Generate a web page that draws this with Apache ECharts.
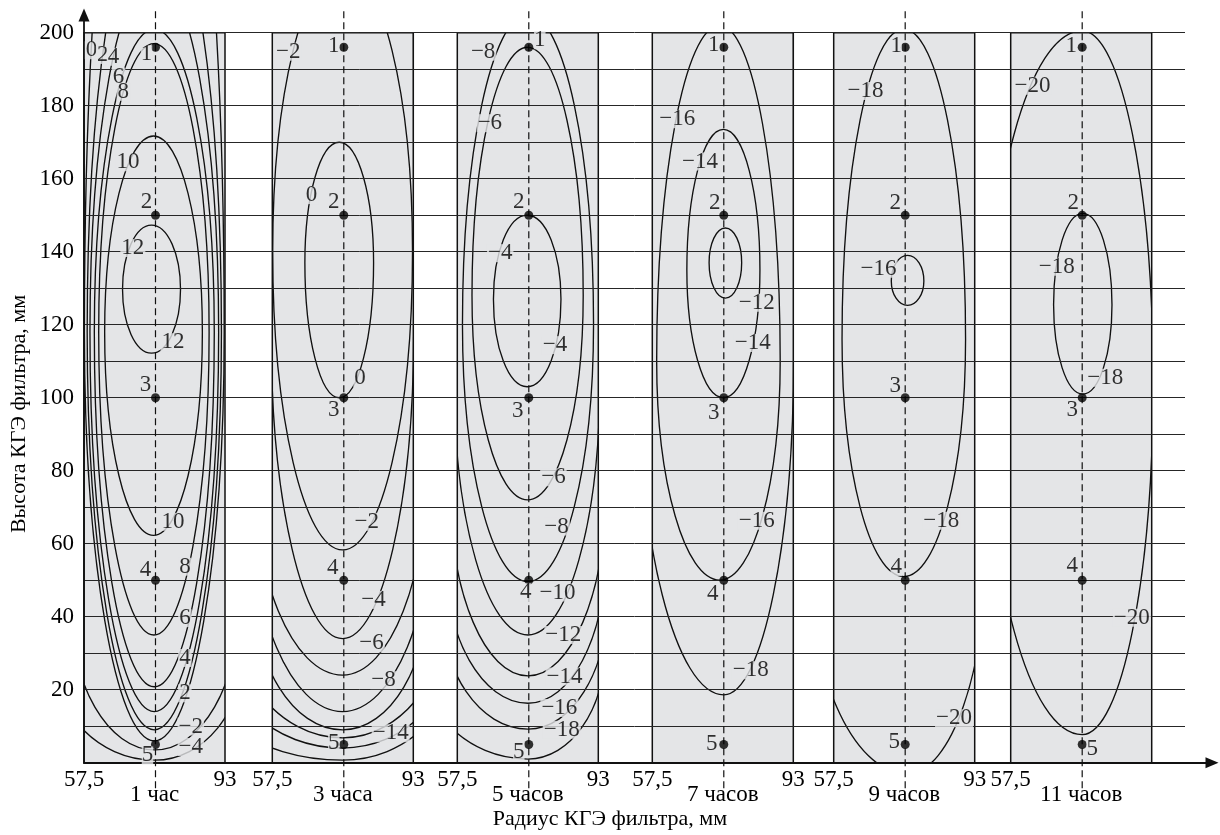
<!DOCTYPE html>
<html>
<head>
<meta charset="utf-8">
<script src="https://cdn.jsdelivr.net/npm/echarts@6/dist/echarts.min.js"></script>
<style>html,body{margin:0;padding:0;background:#fff}#c{width:1220px;height:835px}</style>
</head>
<body>
<div id="c"></div>
<script>
// ---------------- data ----------------
const panelNames = ['1 час', '3 часа', '5 часов', '7 часов', '9 часов', '11 часов'];
const radiusMin = 57.5, radiusMax = 93, radiusCenter = 75.5;
const heightMin = 0, heightMax = 200;
const heightTickLabels = [20, 40, 60, 80, 100, 120, 140, 160, 180, 200];
const probeHeights = [196, 150, 100, 50, 5];
const probeNames = ['1', '2', '3', '4', '5'];

// contour: [level, centreRadius, centreHeight, halfWidthLeft, halfWidthRight, halfHeightTop, halfHeightBottom]
const contours1 = [
  [12, 74.5, 129.7, 7.3, 7.3, 17.6, 17.5],
  [10, 75.0, 118, 12.3, 12.3, 53.7, 55.7],
  [8, 75.1, 118, 13.9, 13.9, 79, 83],
  [6, 75.2, 118, 15.1, 15.1, 83, 97.2],
  [4, 75.2, 118, 16.2, 16.2, 98, 104],
  [2, 75.2, 118, 16.9, 16.9, 119, 109],
  [0, 75.2, 118, 17.6, 17.6, 177, 112],
  [-2, 75.3, 43.5, 21.3, 21.3, 1000, 40],
  [-4, 75.3, 30.7, 26, 22.4, 1000, 30]
];
const contours2 = [
  [0, 74.35, 137, 8.65, 8.65, 33, 37],
  [-2, 75.2, 140, 17.6, 17.6, 78, 81.7],
  [-4, 75.2, 118, 18.0, 17.9, 1000, 84],
  [-6, 75.2, 84, 22.9, 21.6, 1000, 60],
  [-8, 75.2, 74, 23.5, 23.0, 1000, 60],
  [-10, 75.2, 49, 22.7, 21.8, 1000, 40],
  [-12, 75.2, 46.8, 29.2, 27.5, 1000, 40],
  [-14, 75.2, 34, 30.7, 27.7, 1000, 30],
  [-16, 75.2, 30.7, 38.8, 28.8, 1000, 30]
];
const contours3 = [
  [-4, 75.1, 127, 8.5, 8.5, 23, 24],
  [-6, 75.2, 128, 14, 14, 68, 56],
  [-8, 75.3, 120, 16.5, 16.5, 85, 70.4],
  [-10, 75.3, 105, 18.6, 18.1, 1000, 70],
  [-12, 75.3, 73.8, 19.5, 19.5, 1000, 50],
  [-14, 75.3, 56.3, 20.9, 19.4, 1000, 40],
  [-16, 75.3, 44.2, 22, 19.95, 1000, 35],
  [-18, 75.3, 31, 27.7, 19.3, 1000, 30]
];
const contours4 = [
  [-12, 75.9, 137, 4.1, 4.1, 9.5, 9.7],
  [-14, 75.4, 135, 9.2, 9.2, 38.5, 35],
  [-16, 74.5, 110, 15.9, 15.2, 92, 60],
  [-18, 75.5, 112, 21.9, 17.6, 1000, 93.4]
];
const contours5 = [
  [-16, 76.1, 132, 4.1, 4.1, 7, 6.7],
  [-18, 75.15, 116, 15.55, 15.55, 85, 65],
  [-20, 76, 60, 25.2, 20, 1000, 63]
];
const contours6 = [
  [-18, 75.65, 125.5, 7.35, 7.35, 25, 24.5],
  [-20, 75.5, 104.3, 24.2, 17.86, 96.2, 96.6]
];

// contour labels: [text, radius, height]
const contourLabels1 = [
  ['0', 59.4, 195.2], ['2', 62.2, 193.9], ['4', 64.9, 193.4], ['6', 66.2, 188], ['8', 67.4, 183.8],
  ['10', 68.6, 164.5], ['12', 69.8, 141], ['12', 79.9, 115.2],
  ['10', 79.9, 66], ['8', 82.9, 53.7], ['6', 82.9, 39.6], ['4', 82.9, 28.7], ['2', 82.9, 19],
  ['\u22122', 84.4, 9.9], ['\u22124', 84.4, 4.3]
];
const contourLabels2 = [
  ['\u22122', 61.5, 194.8], ['0', 67.4, 155.5], ['0', 79.6, 105.3], ['\u22122', 81.3, 66],
  ['\u22124', 83, 44.6], ['\u22126', 82.5, 32.7], ['\u22128', 85.5, 22.6], ['\u221214', 87.3, 8.1]
];
const contourLabels3 = [
  ['\u22128', 64, 194.8], ['\u22126', 65.7, 175.2], ['\u22124', 68.3, 139.6], ['\u22124', 82.1, 114.4],
  ['\u22126', 81.7, 78.2], ['\u22128', 82.5, 64.7], ['\u221210', 82.7, 46.6], ['\u221212', 84.2, 35],
  ['\u221214', 84.5, 23.6], ['\u221216', 83.2, 15], ['\u221218', 83.8, 9]
];
const contourLabels4 = [
  ['\u221216', 63.8, 176.3], ['\u221214', 69.5, 164.7], ['\u221212', 83.8, 126], ['\u221214', 82.8, 115],
  ['\u221216', 83.8, 66.3], ['\u221218', 82.3, 25.3]
];
const contourLabels5 = [
  ['\u221218', 65.5, 184], ['\u221216', 68.8, 135.3], ['\u221218', 84.6, 66.3], ['\u221220', 87.8, 12.2]
];
const contourLabels6 = [
  ['\u221220', 63.0, 185.5], ['\u221218', 69.1, 135.9], ['\u221218', 81.3, 105.5], ['\u221220', 88, 39.7]
];

const allContours = [contours1, contours2, contours3, contours4, contours5, contours6];
const allContourLabels = [contourLabels1, contourLabels2, contourLabels3, contourLabels4, contourLabels5, contourLabels6];

// ---------------- layout / style ----------------
const FONT = 'Liberation Serif';
const INK = '#000';
const PANEL_BG = '#e4e5e7';
const panelLeft = [84, 272.3, 457.3, 652.3, 833.7, 1010.7];
const panelWidth = 141, plotTop = 32.7, plotHeight = 730;
const probeLabelOffsets = [
  [[-9, 7], [-9, -13], [-10, -13], [-10, -10], [-8, 11]],
  [[-10, -1], [-10, -13], [-10, 12], [-11, -12], [-10, -1]],
  [[11, -7], [-10, -13], [-11, 13], [-3, 12], [-10, 8]],
  [[-10, -2], [-9, -12], [-10, 15], [-11, 14], [-12, 0]],
  [[-9, -1], [-10, -12], [-10, -12], [-9, -13], [-11, -2]],
  [[-11, -1], [-9, -12], [-10, 12], [-10, -14], [10, 5]]
];
const showMaxLabel = [true, true, true, true, true, false];

function renderContour(params, api) {
  const cx = api.value(1), cy = api.value(2);
  const rl = api.value(3), rr = api.value(4), rt = api.value(5), rb = api.value(6);
  const k = 0.5523;
  const c = api.coord([cx, cy]);
  const xL = api.coord([cx - rl, cy])[0];
  const xR = api.coord([cx + rr, cy])[0];
  const yT = api.coord([cx, cy + rt])[1];
  const yB = api.coord([cx, cy - rb])[1];
  const x0 = c[0], y0 = c[1];
  const d = [
    'M', x0, yT,
    'C', x0 + k * (xR - x0), yT, xR, y0 - k * (y0 - yT), xR, y0,
    'C', xR, y0 + k * (yB - y0), x0 + k * (xR - x0), yB, x0, yB,
    'C', x0 - k * (x0 - xL), yB, xL, y0 + k * (yB - y0), xL, y0,
    'C', xL, y0 - k * (y0 - yT), x0 - k * (x0 - xL), yT, x0, yT, 'Z'
  ].join(' ');
  return {
    type: 'path',
    shape: { pathData: d },
    style: { fill: 'none', stroke: '#111', lineWidth: 1.35 }
  };
}

const grids = [
  { left: 84, top: plotTop, width: 1101, height: plotHeight, show: false },
  { left: 84, top: 15, width: 1128, height: 762.7 - 15, show: false }
];
const xAxes = [
  { gridIndex: 0, type: 'value', min: 0, max: 1, show: false },
  {
    gridIndex: 1, type: 'value', min: 0, max: 1,
    axisLine: { show: true, onZero: false, symbol: ['none', 'triangle'], symbolSize: [11, 13], lineStyle: { color: '#111', width: 1.8 } },
    axisTick: { show: false }, axisLabel: { show: false }, splitLine: { show: false }, z: 4
  }
];
const yAxes = [
  {
    gridIndex: 0, type: 'value', min: heightMin, max: heightMax, interval: 10,
    axisLine: { show: false }, axisTick: { show: false },
    axisLabel: {
      fontFamily: FONT, fontSize: 23, color: INK, margin: 10,
      formatter: v => (heightTickLabels.indexOf(v) >= 0 ? String(v) : '')
    },
    splitLine: { show: true, lineStyle: { color: '#262626', width: 1 } },
    z: 3
  },
  {
    gridIndex: 1, type: 'value', min: 0, max: 1,
    axisLine: { show: true, onZero: false, symbol: ['none', 'triangle'], symbolSize: [11, 13], lineStyle: { color: '#111', width: 1.8 } },
    axisTick: { show: false }, axisLabel: { show: false }, splitLine: { show: false }, z: 4
  }
];
const series = [];

panelNames.forEach((name, p) => {
  const gi = p + 2;
  grids.push({
    left: panelLeft[p], top: plotTop, width: panelWidth, height: plotHeight,
    show: true, backgroundColor: PANEL_BG, borderColor: '#111', borderWidth: 1.5, z: 0
  });
  const labelVals = showMaxLabel[p] ? [radiusMin, radiusMax] : [radiusMin];
  xAxes.push({
    gridIndex: gi, type: 'value', min: radiusMin, max: radiusMax,
    axisLine: { show: false }, axisTick: { show: false }, splitLine: { show: false },
    axisLabel: {
      show: true, customValues: labelVals, showMinLabel: true, showMaxLabel: showMaxLabel[p],
      fontFamily: FONT, fontSize: 23, color: INK, margin: 6,
      formatter: v => (labelVals.indexOf(v) >= 0 ? String(v).replace('.', ',') : '')
    },
    name: name, nameLocation: 'middle', nameGap: 21, nameMoveOverlap: false,
    nameTextStyle: { fontFamily: FONT, fontSize: 23, color: INK, verticalAlign: 'top' },
    z: 3
  });
  yAxes.push({ gridIndex: gi, type: 'value', min: heightMin, max: heightMax, show: false });

  series.push({
    type: 'custom', name: 'contours ' + name, xAxisIndex: gi, yAxisIndex: gi,
    coordinateSystem: 'cartesian2d', clip: true, silent: true, z: 2,
    encode: { x: 1, y: 2 },
    data: allContours[p], renderItem: renderContour
  });
  series.push({
    type: 'line', name: 'axis ' + name, xAxisIndex: gi, yAxisIndex: gi, clip: false, silent: true,
    symbol: 'none', z: 4,
    lineStyle: { color: '#111', width: 1.2, type: [7, 4] },
    data: [[radiusCenter, -7], [radiusCenter, 206.5]]
  });
  series.push({
    type: 'scatter', name: 'labels ' + name, xAxisIndex: gi, yAxisIndex: gi, silent: true, z: 5,
    symbolSize: 1, itemStyle: { color: 'rgba(0,0,0,0)' },
    label: {
      show: true, position: 'inside', formatter: '{b}',
      fontFamily: FONT, fontSize: 23, color: INK, lineHeight: 18,
      backgroundColor: PANEL_BG, padding: [0, 1]
    },
    data: allContourLabels[p].map(l => ({ name: l[0], value: [l[1], l[2]] }))
  });
  series.push({
    type: 'scatter', name: 'probes ' + name, xAxisIndex: gi, yAxisIndex: gi, silent: true, z: 6,
    symbol: 'circle', symbolSize: 9, itemStyle: { color: '#000' },
    label: {
      show: true, position: 'inside', formatter: '{b}',
      fontFamily: FONT, fontSize: 23, color: INK, lineHeight: 18,
      backgroundColor: PANEL_BG, padding: [0, 0]
    },
    data: probeHeights.map((h, i) => ({
      name: probeNames[i], value: [radiusCenter, h],
      label: { offset: probeLabelOffsets[p][i] }
    }))
  });
});

const chart = echarts.init(document.getElementById('c'), null, { renderer: 'canvas' });
chart.setOption({
  animation: false,
  backgroundColor: '#fff',
  grid: grids,
  xAxis: xAxes,
  yAxis: yAxes,
  series: series,
  graphic: [
    {
      type: 'text', x: 19, y: 414, rotation: Math.PI / 2,
      style: { text: 'Высота КГЭ фильтра, мм', font: '22px "Liberation Serif"', fill: INK, textAlign: 'center', textVerticalAlign: 'middle' }
    },
    {
      type: 'text', x: 610, y: 819,
      style: { text: 'Радиус КГЭ фильтра, мм', font: '22px "Liberation Serif"', fill: INK, textAlign: 'center', textVerticalAlign: 'middle' }
    }
  ]
});
</script>
</body>
</html>
